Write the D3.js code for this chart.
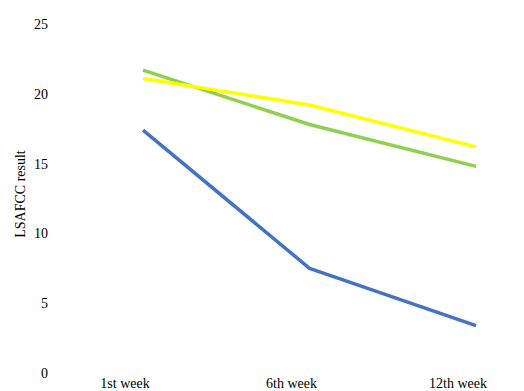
<!DOCTYPE html>
<html>
<head>
<meta charset="utf-8">
<script src="https://cdn.jsdelivr.net/npm/d3@7"></script>
<style>
  body { margin: 0; background: #fff; }
</style>
</head>
<body>
<svg id="chart" width="524" height="391"></svg>
<script>
const weeks = ["1st week", "6th week", "12th week"];
const blueValues = [17.4, 7.5, 3.4];
const greenValues = [21.7, 17.8, 14.8];
const yellowValues = [21.1, 19.2, 16.2];
const yTicks = [0, 5, 10, 15, 20, 25];

const series = [
  { name: "blue", color: "#4472c4", values: blueValues },
  { name: "green", color: "#8fd14f", values: greenValues },
  { name: "yellow", color: "#ffff00", values: yellowValues }
];

const W = 524, H = 391;
const FONT = "'Liberation Serif', 'DejaVu Serif', serif";
const svg = d3.select("#chart");

const x = d3.scalePoint().domain(weeks).range([143, 476]);
const y = d3.scaleLinear().domain([0, 25]).range([373, 24]);

// y tick labels, no axis line
const yAxis = svg.append("g")
  .attr("class", "y-axis")
  .attr("transform", "translate(48,0)")
  .call(d3.axisLeft(y).tickValues(yTicks).tickSize(0).tickPadding(0));
yAxis.select(".domain").remove();
yAxis.attr("font-family", FONT).attr("font-size", 14);
yAxis.selectAll("text")
  .style("font-family", FONT)
  .style("font-size", "14px")
  .attr("fill", "#000");

// x labels
svg.append("g")
  .selectAll("text")
  .data(weeks)
  .enter()
  .append("text")
  .attr("x", d => x(d) - 18)
  .attr("y", 388)
  .attr("text-anchor", "middle")
  .style("font-family", FONT)
  .style("font-size", "14px")
  .text(d => d)
  .each(function () {
    const bb = this.getBBox();
    if (bb.x + bb.width > W - 1) {
      d3.select(this).attr("text-anchor", "end").attr("x", W - 1);
    }
  });

svg.append("text")
  .attr("transform", "translate(25,194) rotate(-90)")
  .attr("text-anchor", "middle")
  .style("font-family", FONT)
  .style("font-size", "14px")
  .text("LSAFCC result");

const line = d3.line()
  .x((d, i) => x(weeks[i]))
  .y(d => y(d));

svg.selectAll(".series")
  .data(series)
  .enter()
  .append("path")
  .attr("class", "series")
  .attr("fill", "none")
  .attr("stroke", d => d.color)
  .attr("stroke-width", 3.5)
  .attr("stroke-linejoin", "round")
  .attr("d", d => line(d.values));
</script>
</body>
</html>
